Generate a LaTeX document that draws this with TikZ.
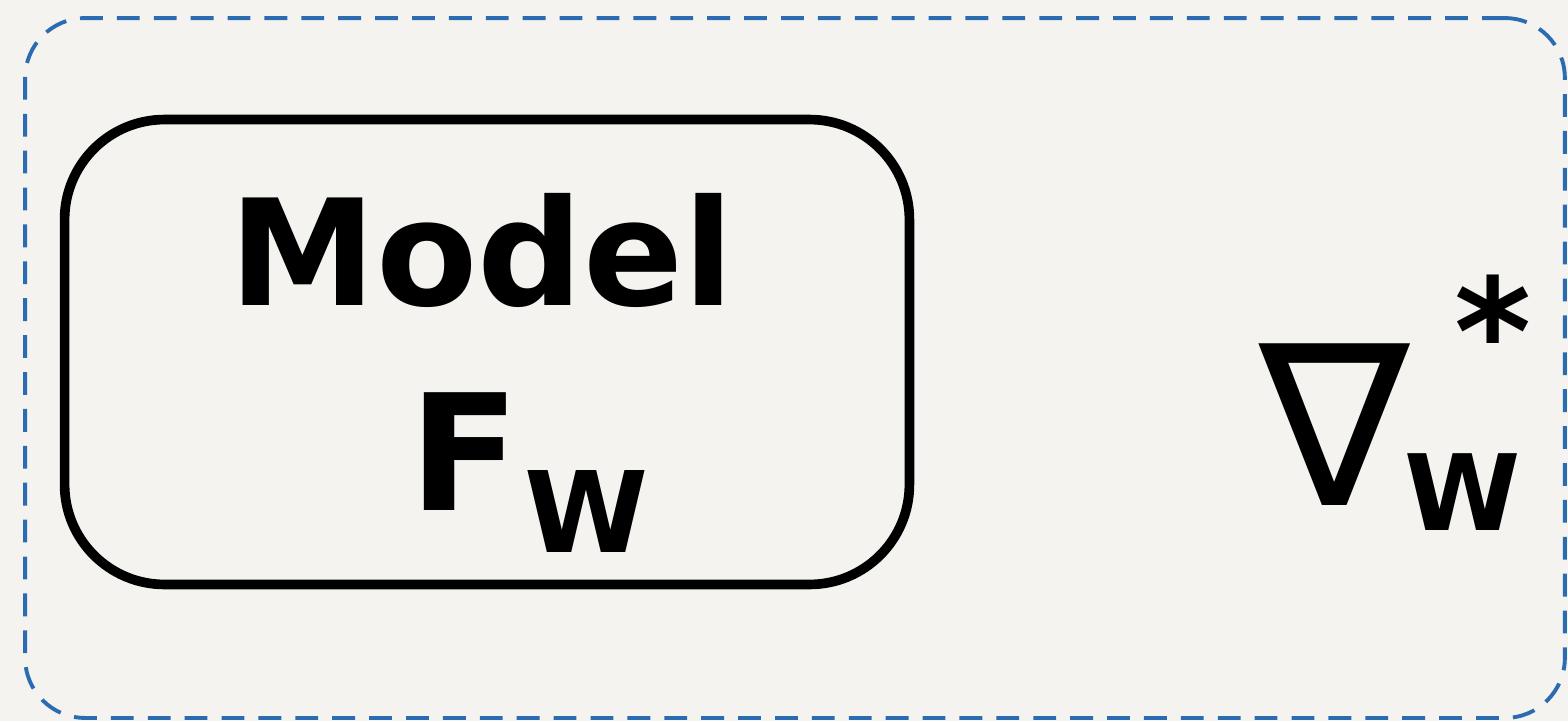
\documentclass[tikz,border=0pt]{standalone}
\usepackage{fontspec}
\setmainfont{DejaVu Sans}
\usetikzlibrary{calc, positioning}

\begin{document}
\begin{tikzpicture}[x=0.02cm, y=-0.02cm]
    % Define colours
    \definecolor{paperColour}{HTML}{F4F3F0}
    \definecolor{dashColour}{HTML}{2B6CB0}
    \definecolor{inkColour}{HTML}{000000}

    % Define styles
    \tikzset{
        outerbox/.style={draw=dashColour, line width=2.2pt, dash pattern=on 13pt off 8pt,
            rounded corners=1.2cm, minimum width=30.8cm, minimum height=14cm},
        modelbox/.style={draw=inkColour, line width=5.5pt, rounded corners=2cm,
            minimum width=16.9cm, minimum height=9.3cm},
        bigtext/.style={inner sep=0pt, text=inkColour, font=\bfseries\fontsize{84}{88}\selectfont}
    }

    % Draw paper
    \fill[paperColour] (0,0) rectangle (1568,721);
    \useasboundingbox (0,0) rectangle (1568,721);

    % Draw boxes
    \node[outerbox] (outer) at (795,368) {};
    \node[modelbox] (model) at (487,352) {};

    % Label the model box
    \node[bigtext] (modelText) at (482,250) {Model};
    \node[bigtext, font=\bfseries\fontsize{92}{96}\selectfont] (fText) at (465,452) {F};
    \node[bigtext, font=\bfseries\fontsize{64}{68}\selectfont, right=2pt of fText.south east, anchor=west] (fSub) {W};

    % Label the gradient
    \node[bigtext, font=\fontsize{128}{132}\selectfont] (nabla) at (1335,425) {∇};
    \node[bigtext, font=\bfseries\fontsize{60}{64}\selectfont] (nablaSub) at (1463,492) {W};
    \node[bigtext, font=\bfseries\fontsize{84}{88}\selectfont] (nablaSup) at (1493,330) {*};

\end{tikzpicture}
\end{document}
